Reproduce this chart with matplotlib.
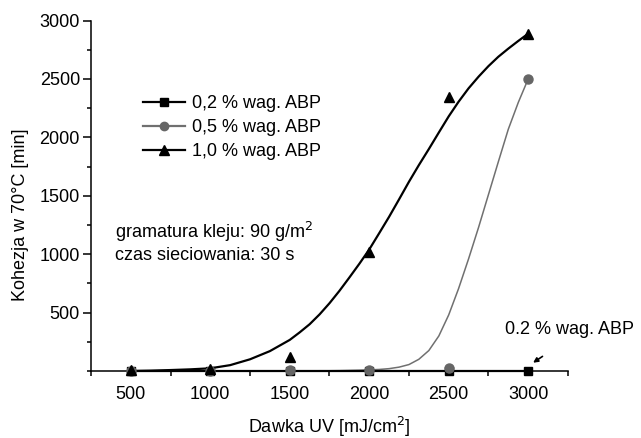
import matplotlib
matplotlib.use('Agg')
import matplotlib.pyplot as plt
from matplotlib.lines import Line2D
from matplotlib.ticker import MultipleLocator

# dane pomiarowe
dawka = [500, 1000, 1500, 2000, 2500, 3000]
abp_02 = [0, 0, 0, 0, 0, 0]
abp_05 = [0, 0, 5, 10, 25, 2500]
abp_10 = [5, 20, 120, 1020, 2345, 2888]

# krzywe dopasowania, tez
fit_x = [500, 625, 750, 875, 1000, 1125, 1250, 1375, 1500, 1562,
         1625, 1688, 1750, 1812, 1875, 1938, 2000, 2062, 2125, 2188,
         2250, 2312, 2375, 2438, 2500, 2562, 2625, 2688, 2750, 2812,
         2875, 2938, 3000]
fit_10 = [0, 3, 8, 14, 23, 50, 100, 170, 266, 330,
          400, 485, 580, 685, 800, 918, 1040, 1178, 1320, 1470,
          1620, 1762, 1900, 2042, 2180, 2305, 2420, 2520, 2610, 2690,
          2760, 2826, 2888]
fit_05 = [0, 0, 0, 0, 0, 0, 0, 0, 0, 1,
          1, 2, 2, 3, 5, 7, 10, 13, 20, 33,
          55, 100, 175, 300, 480, 705, 960, 1230, 1510, 1790,
          2070, 2300, 2500]

labels = ['0,2 % wag. ABP', '0,5 % wag. ABP', '1,0 % wag. ABP']

plt.rcParams['font.family'] = ['Liberation Sans', 'DejaVu Sans']
s = 13
grey = '#707070'

fig = plt.figure(figsize=(6.41, 4.38), dpi=100)
ax = fig.add_axes([0.142, 0.153, 0.744, 0.800])

# krzywe
ax.plot(fit_x, fit_05, color=grey, linewidth=1.1, zorder=2)
ax.plot(fit_x, fit_10, color='black', linewidth=1.6, zorder=3)
ax.plot(dawka, abp_02, color='black', linewidth=1.6, clip_on=False, zorder=3)

# punkty
ax.plot(dawka, abp_02, 's', color='black', markersize=5.5, clip_on=False, zorder=4)
ax.plot(dawka, abp_05, 'o', color='#666666', markersize=6.5, clip_on=False, zorder=5)
ax.plot(dawka, abp_10, '^', color='black', markersize=7, clip_on=False, zorder=6)

ax.set_xlim(250, 3250)
ax.set_ylim(0, 3000)
ax.set_xticks([500, 1000, 1500, 2000, 2500, 3000])
ax.set_yticks([500, 1000, 1500, 2000, 2500, 3000])
ax.xaxis.set_minor_locator(MultipleLocator(500, offset=250))
ax.yaxis.set_minor_locator(MultipleLocator(250))

for sp in ['top', 'right']:
    ax.spines[sp].set_visible(False)
for sp in ['left', 'bottom']:
    ax.spines[sp].set_linewidth(1.1)

ax.tick_params(axis='y', which='major', direction='out', length=6, width=1.1, pad=2, labelsize=s)
ax.tick_params(axis='y', which='minor', direction='out', length=3, width=1.1)
ax.tick_params(axis='x', which='both', direction='out', length=3.5, width=1.1, pad=7, labelsize=s)

ax.set_xlabel('Dawka UV [mJ/cm$^2$]', fontsize=s)
ax.set_ylabel('Kohezja w 70°C [min]', fontsize=s)
ax.xaxis.set_label_coords(0.5, -0.126)
ax.yaxis.set_label_coords(-0.131, 0.446)

# legenda
h1 = Line2D([], [], color='black', linewidth=1.6, marker='s', markersize=5.5)
h2 = Line2D([], [], color=grey, linewidth=1.6, marker='o', markersize=6, markerfacecolor='#666666', markeredgecolor='#666666')
h3 = Line2D([], [], color='black', linewidth=1.6, marker='^', markersize=6.5)
ax.legend([h1, h2, h3], labels, loc='upper left', bbox_to_anchor=(0.2231, 0.782),
          bbox_transform=fig.transFigure, frameon=False, fontsize=s,
          handlelength=2.3, handletextpad=0.4, labelspacing=0.38,
          borderpad=0, borderaxespad=0)

# opisy
ax.text(400, 1142, 'gramatura kleju: 90 g/m$^2$', fontsize=s, va='baseline')
ax.text(400, 951, 'czas sieciowania: 30 s', fontsize=s, va='baseline')
ax.text(2855, 314, '0.2 % wag. ABP', fontsize=s, va='baseline', clip_on=False)
ax.annotate('', xy=(3031, 71), xytext=(3090, 125), annotation_clip=False,
            arrowprops=dict(arrowstyle='-|>', color='black', lw=1.2, mutation_scale=7,
                            shrinkA=0, shrinkB=0))

plt.savefig('out.png', dpi=100)
